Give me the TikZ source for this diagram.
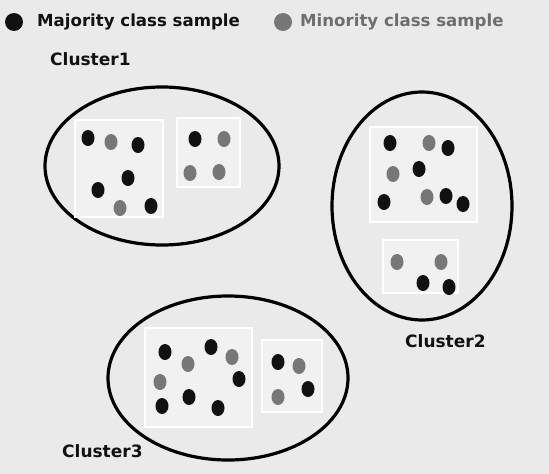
\documentclass[tikz,border=0pt]{standalone}
\usepackage{fontspec}
\setmainfont{DejaVu Sans}
\usetikzlibrary{shapes.geometric}
\definecolor{bg}{HTML}{EAEAEA}
\definecolor{boxfill}{HTML}{F1F1F1}
\definecolor{maj}{HTML}{111111}
\definecolor{mino}{HTML}{777777}
\definecolor{txtmin}{HTML}{6E6E6E}
\tikzset{
  majdot/.style={ellipse,fill=maj,inner sep=0pt,minimum width=13pt,minimum height=16pt},
  mindot/.style={ellipse,fill=mino,inner sep=0pt,minimum width=13pt,minimum height=16pt},
  clusterell/.style={draw=black,line width=3.2pt},
  subbox/.style={draw=white,line width=1.5pt,fill=boxfill},
  lbl/.style={font=\bfseries\fontsize{16.6}{20}\selectfont,inner sep=0pt,anchor=west},
  clbl/.style={font=\bfseries\fontsize{17}{20}\selectfont,inner sep=0pt,anchor=west,text=maj},
}
\begin{document}
\begin{tikzpicture}[x=1pt,y=-1pt]
\fill[bg] (0,0) rectangle (549,474);
\useasboundingbox (0,0) rectangle (549,474);
% legend
\node[majdot,minimum width=18pt,minimum height=18pt] (lmaj) at (14,22) {};
\node[lbl,text=maj] (lmajt) at (37,22) {Majority class sample};
\node[mindot,minimum width=18pt,minimum height=18pt] (lmin) at (283,22) {};
\node[lbl,text=txtmin] (lmint) at (300,22) {Minority class sample};
% cluster 1
\node[clbl] (c1t) at (50,59) {Cluster1};
\draw[clusterell] (162,166) ellipse [x radius=117,y radius=79];
\draw[subbox] (75,120) rectangle (163,217);
\draw[subbox] (177,118) rectangle (240,187);
\node[majdot] (a1) at (88,138) {};
\node[mindot] (a2) at (111,142) {};
\node[majdot] (a3) at (138,145) {};
\node[majdot] (a4) at (128,178) {};
\node[majdot] (a5) at (98,190) {};
\node[mindot] (a6) at (120,208) {};
\node[majdot] (a7) at (151,206) {};
\node[majdot] (b1) at (195,139) {};
\node[mindot] (b2) at (224,139) {};
\node[mindot] (b3) at (190,173) {};
\node[mindot] (b4) at (219,172) {};
% cluster 2
\draw[clusterell] (422,206) ellipse [x radius=90,y radius=114];
\draw[subbox] (370,127) rectangle (477,222);
\draw[subbox] (383,240) rectangle (458,293);
\node[majdot] (c1) at (390,143) {};
\node[mindot] (c2) at (429,143) {};
\node[majdot] (c3) at (448,148) {};
\node[mindot] (c4) at (393,174) {};
\node[majdot] (c5) at (419,169) {};
\node[majdot] (c6) at (384,202) {};
\node[mindot] (c7) at (427,197) {};
\node[majdot] (c8) at (446,196) {};
\node[majdot] (c9) at (463,204) {};
\node[mindot] (d1) at (397,262) {};
\node[mindot] (d2) at (441,262) {};
\node[majdot] (d3) at (423,283) {};
\node[majdot] (d4) at (449,287) {};
\node[clbl] (c2t) at (405,341) {Cluster2};
% cluster 3
\draw[clusterell] (228,378) ellipse [x radius=120,y radius=82];
\draw[subbox] (145,328) rectangle (252,427);
\draw[subbox] (262,340) rectangle (322,412);
\node[majdot] (e1) at (165,352) {};
\node[majdot] (e2) at (211,347) {};
\node[mindot] (e3) at (232,357) {};
\node[mindot] (e4) at (188,364) {};
\node[mindot] (e5) at (160,382) {};
\node[majdot] (e6) at (239,379) {};
\node[majdot] (e7) at (189,397) {};
\node[majdot] (e8) at (162,406) {};
\node[majdot] (e9) at (218,408) {};
\node[majdot] (f1) at (278,362) {};
\node[mindot] (f2) at (299,366) {};
\node[majdot] (f3) at (308,389) {};
\node[mindot] (f4) at (278,397) {};
\node[clbl] (c3t) at (62,451) {Cluster3};
\end{tikzpicture}
\end{document}
